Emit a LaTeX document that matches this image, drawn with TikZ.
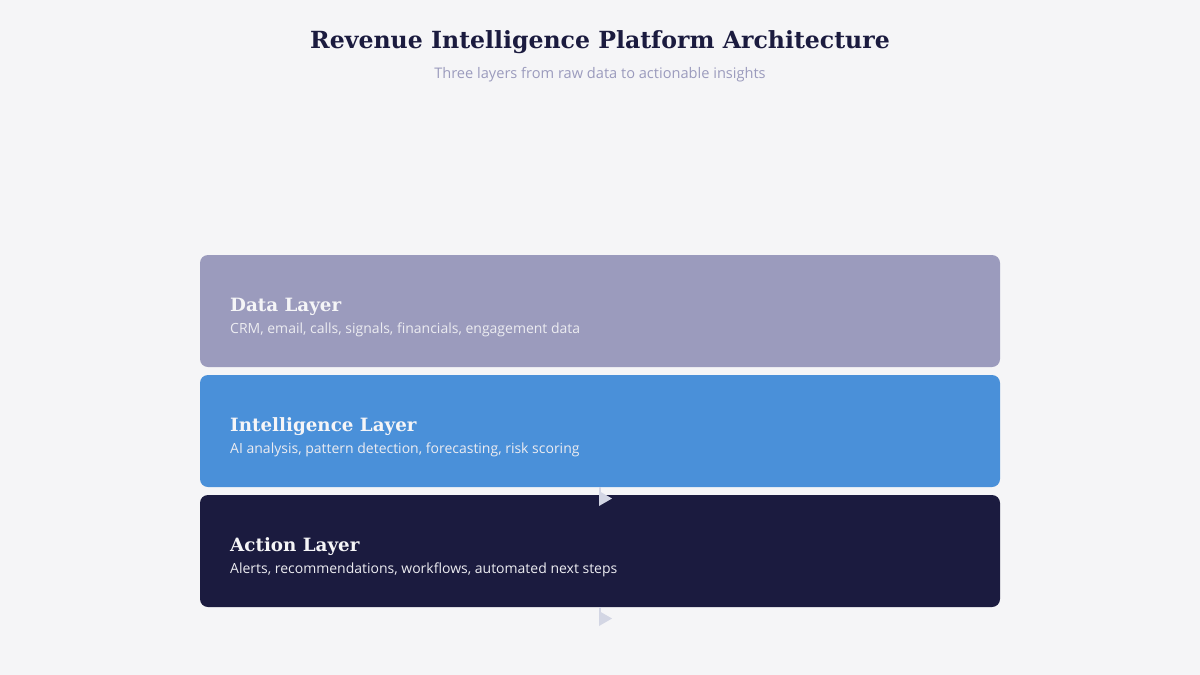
\documentclass[tikz,border=0pt]{standalone}
\usepackage{fontspec}
\setmainfont{DejaVu Serif}
\newfontfamily\uisans{Open Sans}
\definecolor{bgc}{HTML}{F5F5F7}
\definecolor{navy}{HTML}{1B1B3F}
\definecolor{lav}{HTML}{9B9BBD}
\definecolor{blu}{HTML}{4A90D9}
\definecolor{subc}{HTML}{9B9BBD}
\definecolor{arrc}{HTML}{D3D6E4}
\begin{document}
\begin{tikzpicture}[x=1pt,y=-1pt,
  layer/.style={rounded corners=8pt},
  ltitle/.style={anchor=base west,inner sep=0pt,text=bgc,font=\fontsize{18.3}{22}\selectfont\bfseries},
  ldesc/.style={anchor=base west,inner sep=0pt,text=bgc!90!lav,font=\uisans\fontsize{14}{17}\selectfont},
  arrline/.style={draw=arrc,line width=2pt},
  arrhead/.style={fill=arrc}]
\fill[bgc] (0,0) rectangle (1200,675);
\useasboundingbox (0,0) rectangle (1200,675);
\node[anchor=base,inner sep=0pt,text=navy,font=\fontsize{23.6}{28}\selectfont\bfseries] (title) at (600,48) {Revenue Intelligence Platform Architecture};
\node[anchor=base,inner sep=0pt,text=subc,font=\uisans\fontsize{14.6}{17}\selectfont] (sub) at (600,78) {Three layers from raw data to actionable insights};
\fill[layer,lav] (200,255) rectangle (1000,367);
\fill[layer,blu] (200,375) rectangle (1000,487);
\fill[layer,navy] (200,495) rectangle (1000,607);
\node[ltitle] (dt) at (230,311) {Data Layer};
\node[ldesc] (dd) at (230,333) {CRM, email, calls, signals, financials, engagement data};
\node[ltitle] (it) at (230,431) {Intelligence Layer};
\node[ldesc] (id) at (230,453) {AI analysis, pattern detection, forecasting, risk scoring};
\node[ltitle] (at) at (230,551) {Action Layer};
\node[ldesc] (ad) at (230,573) {Alerts, recommendations, workflows, automated next steps};
\coordinate (a1s) at (599.5,487);
\coordinate (a1e) at (599.5,505);
\coordinate (a2s) at (599.5,607);
\coordinate (a2e) at (599.5,625);
\draw[arrline] (a1s) -- (a1e);
\draw[arrline] (a2s) -- (a2e);
\fill[arrhead] (599,491) -- (612,498.5) -- (599,506) -- cycle;
\fill[arrhead] (599,611) -- (612,618.5) -- (599,626) -- cycle;
\end{tikzpicture}
\end{document}
